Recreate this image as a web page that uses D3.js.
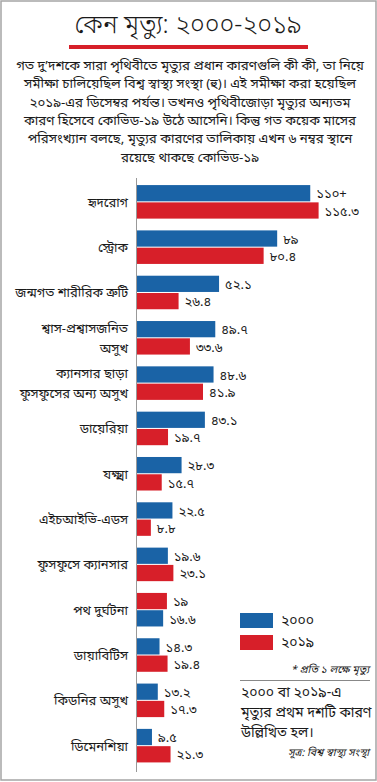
<!DOCTYPE html>
<html>
<head>
<meta charset="utf-8">
<script src="https://cdn.jsdelivr.net/npm/d3@7"></script>
<style>
  body { margin: 0; background: #fff; }
  text { font-family: "Noto Sans Bengali", "Noto Serif Bengali", "Lohit Bengali", "Noto Sans", sans-serif; fill: #1a1a1a; }
</style>
</head>
<body>
<div id="chart"></div>
<script>
// categories (two-line labels split with \n)
const categories = [
  'হৃদরোগ', 'স্ট্রোক', 'জন্মগত শারীরিক ত্রুটি', 'শ্বাস-প্রশ্বাসজনিত\nঅসুখ',
  'ক্যানসার ছাড়া\nফুসফুসের অন্য অসুখ', 'ডায়েরিয়া', 'যক্ষ্মা', 'এইচআইভি-এডস',
  'ফুসফুসে ক্যানসার', 'পথ দুর্ঘটনা', 'ডায়াবিটিস', 'কিডনির অসুখ', 'ডিমেনশিয়া'
];
// deaths per 100k
const values2000 = [110, 89, 52.1, 49.7, 48.6, 43.1, 28.3, 22.5, 19.6, 16.6, 14.3, 13.2, 9.5];
const values2019 = [115.3, 80.4, 26.4, 33.6, 41.9, 19.7, 15.7, 8.8, 23.1, 19, 19.4, 17.3, 21.3];
const years = ['2000', '2019'];
// in the original, road accidents has the 2019 bar on top
const reversedCategories = ['পথ দুর্ঘটনা'];
const labelOverrides = { '2000-0': '১১০+' };

const titleText = 'কেন মৃত্যু: ২০০০-২০১৯';
const introLines = [
  'গত দু’দশকে সারা পৃথিবীতে মৃত্যুর প্রধান কারণগুলি কী কী, তা নিয়ে',
  'সমীক্ষা চালিয়েছিল বিশ্ব স্বাস্থ্য সংস্থা (হু)। এই সমীক্ষা করা হয়েছিল',
  '২০১৯-এর ডিসেম্বর পর্যন্ত। তখনও পৃথিবীজোড়া মৃত্যুর অন্যতম',
  'কারণ হিসেবে কোভিড-১৯ উঠে আসেনি। কিন্তু গত কয়েক মাসের',
  'পরিসংখ্যান বলছে, মৃত্যুর কারণের তালিকায় এখন ৬ নম্বর স্থানে',
  'রয়েছে থাকছে কোভিড-১৯'
];
const noteLines = ['২০০০ বা ২০১৯-এ', 'মৃত্যুর প্রথম দশটি কারণ', 'উল্লিখিত হল।'];
const unitNote = '* প্রতি ১ লক্ষে মৃত্যু';
const sourceNote = 'সূত্র: বিশ্ব স্বাস্থ্য সংস্থা';

const colors = { '2000': '#1a63a6', '2019': '#d71f29' };

const width = 377, height = 782;
const bnDigits = '০১২৩৪৫৬৭৮৯';
const toBn = s => String(s).replace(/[0-9]/g, d => bnDigits[+d]);

const svg = d3.select('#chart')
  .append('svg')
  .attr('width', width)
  .attr('height', height);

// frame
svg.append('rect')
  .attr('x', 1).attr('y', 1)
  .attr('width', width - 2).attr('height', height - 3)
  .attr('fill', 'none')
  .attr('stroke', '#a5a5a5')
  .attr('stroke-width', 1.5);

// title + red rule
svg.append('text')
  .attr('x', 188).attr('y', 33)
  .attr('text-anchor', 'middle')
  .attr('font-size', 25)
  .attr('font-weight', 300)
  .text(titleText);
svg.append('rect')
  .attr('x', 69).attr('y', 45)
  .attr('width', 239).attr('height', 4)
  .attr('fill', '#d71f29');

// intro paragraph
svg.append('g')
  .selectAll('text')
  .data(introLines)
  .join('text')
  .attr('x', 190)
  .attr('y', (d, i) => 70 + i * 18.3)
  .attr('text-anchor', 'middle')
  .attr('font-size', 13.3)
  .text(d => d);

// scales
const x = d3.scaleLinear()
  .domain([0, 120])
  .range([137, 326]);

const y0 = d3.scaleBand()
  .domain(categories)
  .range([181, 766.5])
  .paddingInner(0.26)
  .paddingOuter(0.09);

const y1 = d3.scaleBand()
  .domain(years)
  .range([0, y0.bandwidth()])
  .paddingInner(0.06);

const rows = categories.map((c, i) => ({
  category: c,
  bars: years.map(yr => ({
    year: yr,
    value: yr === '2000' ? values2000[i] : values2019[i],
    label: labelOverrides[`${yr}-${i}`] || toBn(yr === '2000' ? values2000[i] : values2019[i]),
    slot: reversedCategories.includes(c) ? (yr === '2000' ? '2019' : '2000') : yr
  }))
}));

const groups = svg.append('g')
  .selectAll('g')
  .data(rows)
  .join('g')
  .attr('transform', d => `translate(0,${y0(d.category)})`);

groups.selectAll('rect')
  .data(d => d.bars)
  .join('rect')
  .attr('x', x(0))
  .attr('y', d => y1(d.slot))
  .attr('width', d => x(d.value) - x(0))
  .attr('height', y1.bandwidth())
  .attr('fill', d => colors[d.year]);

groups.selectAll('text.value')
  .data(d => d.bars)
  .join('text')
  .attr('class', 'value')
  .attr('x', d => x(d.value) + 6)
  .attr('y', d => y1(d.slot) + y1.bandwidth() / 2)
  .attr('dy', '0.4em')
  .attr('font-size', 13)
  .attr('fill', '#333')
  .text(d => d.label);

// category labels
groups.each(function(d) {
  const lines = d.category.split('\n');
  d3.select(this).selectAll('text.cat')
    .data(lines)
    .join('text')
    .attr('class', 'cat')
    .attr('x', 128)
    .attr('y', (l, i) => y0.bandwidth() / 2 + 5 + (i - (lines.length - 1) / 2) * 20)
    .attr('text-anchor', 'end')
    .attr('font-size', 13)
    .text(l => l);
});

// axis line
svg.append('line')
  .attr('x1', x(0) - 0.5).attr('x2', x(0) - 0.5)
  .attr('y1', 178).attr('y2', 772)
  .attr('stroke', '#999')
  .attr('stroke-width', 1);

// legend
const legend = svg.append('g')
  .attr('transform', 'translate(240,613)');
legend.selectAll('rect')
  .data(years)
  .join('rect')
  .attr('x', 0)
  .attr('y', (d, i) => i * 22)
  .attr('width', 33)
  .attr('height', 15)
  .attr('fill', d => colors[d]);
legend.selectAll('text')
  .data(years)
  .join('text')
  .attr('x', 41)
  .attr('y', (d, i) => i * 22 + 12)
  .attr('font-size', 14)
  .text(d => toBn(d));

svg.append('text')
  .attr('x', 369).attr('y', 673)
  .attr('text-anchor', 'end')
  .attr('font-size', 10.5)
  .attr('font-style', 'italic')
  .text(unitNote);

svg.append('line')
  .attr('x1', 240).attr('x2', 370)
  .attr('y1', 680.5).attr('y2', 680.5)
  .attr('stroke', '#888');

svg.append('g')
  .selectAll('text')
  .data(noteLines)
  .join('text')
  .attr('x', 241)
  .attr('y', (d, i) => 697 + i * 20)
  .attr('font-size', 14)
  .text(d => d);

svg.append('text')
  .attr('x', 369).attr('y', 756)
  .attr('text-anchor', 'end')
  .attr('font-size', 10.5)
  .attr('font-style', 'italic')
  .text(sourceNote);
</script>
</body>
</html>
